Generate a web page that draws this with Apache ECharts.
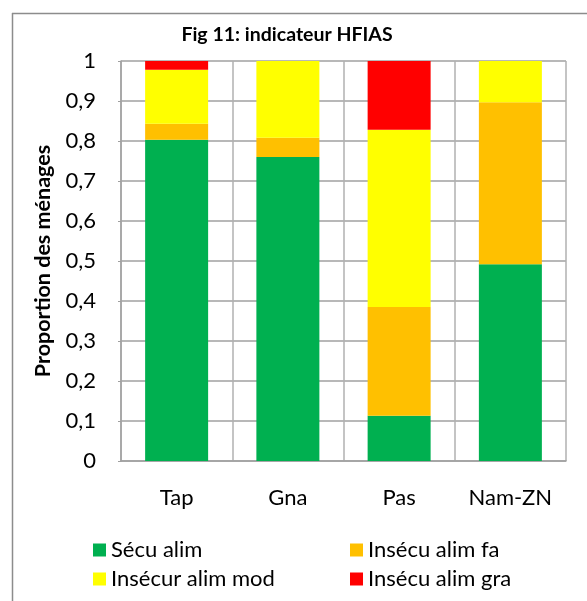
<!DOCTYPE html>
<html><head><meta charset="utf-8">
<script src="https://cdn.jsdelivr.net/npm/echarts@6/dist/echarts.min.js"></script>
<style>html,body{margin:0;padding:0;background:#fff}#c{width:587px;height:601px}</style>
</head><body><div id="c"></div>
<script>
var categories = ['Tap', 'Gna', 'Pas', 'Nam-ZN'];
var secuAlim = [0.803, 0.760, 0.113, 0.492];
var insecuFa = [0.040, 0.048, 0.272, 0.405];
var insecuMod = [0.135, 0.192, 0.443, 0.103];
var insecuGra = [0.022, 0.000, 0.172, 0.000];
var seriesNames = ['Sécu alim', 'Insécu alim fa', 'Insécur alim mod', 'Insécu alim gra'];
var colors = ['#00B050', '#FFC000', '#FFFF00', '#FF0000'];
var yTicks = ['0', '0,1', '0,2', '0,3', '0,4', '0,5', '0,6', '0,7', '0,8', '0,9', '1'];

var font = 'Lato, "Open Sans", sans-serif';
var chart = echarts.init(document.getElementById('c'), null, {renderer: 'canvas'});
var data = [secuAlim, insecuFa, insecuMod, insecuGra];
var series = data.map(function (d, i) {
  return {
    name: seriesNames[i], type: 'bar', stack: 'total', data: d,
    barWidth: 63, itemStyle: {color: colors[i]}, emphasis: {disabled: true}
  };
});
var legendText = {fontFamily: font, fontSize: 22, color: '#000'};
chart.setOption({
  animation: false,
  textStyle: {fontFamily: font},
  title: {
    text: 'Fig 11: indicateur HFIAS', left: 282, textAlign: 'center', top: 20,
    textStyle: {fontFamily: font, fontSize: 19.5, fontWeight: 'bold', color: '#000'}
  },
  graphic: [
    {type: 'line', shape: {x1: 12.5, y1: 13, x2: 12.5, y2: 601}, style: {stroke: '#8c8c8c', lineWidth: 1.5}},
    {type: 'line', shape: {x1: 12, y1: 13.5, x2: 587, y2: 13.5}, style: {stroke: '#8c8c8c', lineWidth: 1.5}}
  ],
  legend: [
    {data: [seriesNames[0], seriesNames[2]], orient: 'vertical', left: 93, top: 539, itemGap: 7, padding: 0,
     itemWidth: 13, itemHeight: 13, icon: 'rect', selectedMode: false, textStyle: legendText},
    {data: [seriesNames[1], seriesNames[3]], orient: 'vertical', left: 350, top: 539, itemGap: 7, padding: 0,
     itemWidth: 13, itemHeight: 13, icon: 'rect', selectedMode: false, textStyle: legendText}
  ],
  grid: {left: 121, right: 21, top: 61, bottom: 140, containLabel: false},
  xAxis: {
    type: 'category', data: categories,
    axisLine: {lineStyle: {color: '#a0a0a0', width: 1.5}},
    axisTick: {show: false},
    splitLine: {show: true, lineStyle: {color: '#b0b0b0', width: 1.5}},
    axisLabel: {fontFamily: font, fontSize: 22, color: '#000', margin: 26}
  },
  yAxis: {
    type: 'value', min: 0, max: 1, interval: 0.1,
    name: 'Proportion des ménages', nameLocation: 'middle', nameGap: 67, nameRotate: 90,
    nameTextStyle: {fontFamily: font, fontSize: 21.5, fontWeight: 'bold', color: '#000'},
    axisLine: {show: true, lineStyle: {color: '#a0a0a0', width: 1.5}},
    axisTick: {show: true, length: 3, lineStyle: {color: '#a0a0a0'}},
    splitLine: {show: true, lineStyle: {color: '#a0a0a0', width: 1.5}},
    axisLabel: {
      fontFamily: font, fontSize: 22, color: '#000', margin: 25,
      formatter: function (v) { return yTicks[Math.round(v * 10)]; }
    }
  },
  series: series
});
</script></body></html>
